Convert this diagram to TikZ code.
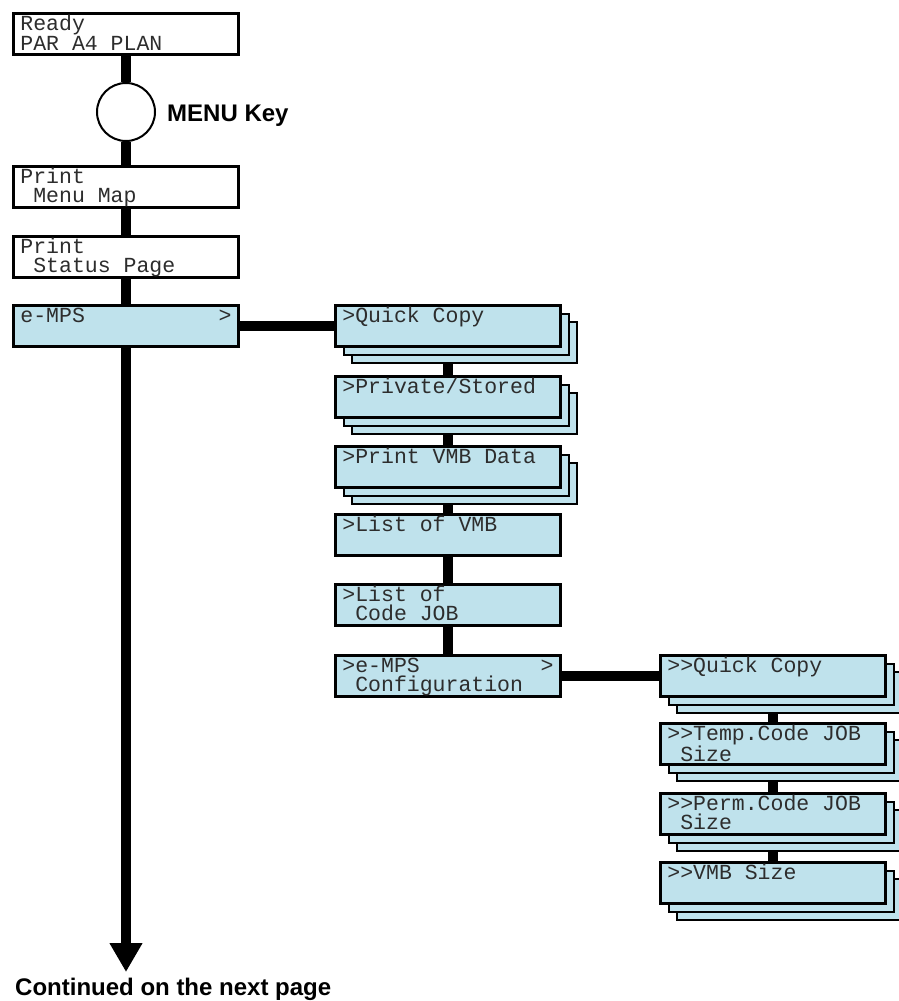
\documentclass[tikz,border=0pt]{standalone}
\usepackage{fontspec}
\newfontfamily\lcdmono{Liberation Mono}
\newfontfamily\labelsans{Liberation Sans}
\usetikzlibrary{shadows,arrows.meta,backgrounds}
\definecolor{lcdblue}{RGB}{191,226,236}
\definecolor{lcdink}{RGB}{45,45,45}

% two display lines, top aligned in the box
\newcommand\lcdtext[2]{\parbox[c][41pt][t]{211.2pt}{\rule{0pt}{17pt}#1\\#2}}
\newcommand\lcdsp{\hspace*{0.6em}}

\begin{document}
\begin{tikzpicture}[x=1pt, y=-1pt,
  lcd/.style={draw, line width=3pt, fill=white, inner sep=0pt, text=lcdink,
    minimum width=225pt, minimum height=41pt,
    font=\lcdmono\fontsize{21.5pt}{18.5pt}\selectfont},
  sub/.style={lcd, fill=lcdblue},
  stack/.style={sub, double copy shadow={shadow xshift=8pt, shadow yshift=-8pt,
    fill=lcdblue, draw=black, line width=2pt}},
  key/.style={circle, draw, line width=2pt, fill=white, minimum size=58pt, inner sep=0pt},
  link/.style={line width=10pt},
  caption/.style={font=\labelsans\bfseries\fontsize{24pt}{28pt}\selectfont, inner sep=0pt}]
  \useasboundingbox (0,0) rectangle (898,1001);

  % --- main column
  \node[lcd] (ready) at (126,34) {\lcdtext{Ready}{PAR A4 PLAN}};
  \node[key] (key) at (126,112) {};
  \node[caption, anchor=base west] (keylabel) at (167,121) {MENU Key};
  \node[lcd] (menumap) at (126,187) {\lcdtext{Print}{\lcdsp Menu Map}};
  \node[lcd] (status) at (126,257) {\lcdtext{Print}{\lcdsp Status Page}};
  \node[sub] (emps) at (126,326) {\lcdtext{e-MPS\hfill>}{}};
  \coordinate (tip) at (126,972);
  \node[caption, anchor=base west] (next) at (15,995) {Continued on the next page};

  % --- e-MPS submenu
  \node[stack] (qc) at (448,326) {\lcdtext{>Quick Copy}{}};
  \node[stack] (priv) at (448,397) {\lcdtext{>Private/Stored}{}};
  \node[stack] (vmbdata) at (448,467) {\lcdtext{>Print VMB Data}{}};
  \node[sub] (listvmb) at (448,535) {\lcdtext{>List of VMB}{}};
  \node[sub] (listjob) at (448,605) {\lcdtext{>List of}{\lcdsp Code JOB}};
  \node[sub] (cfg) at (448,676) {\lcdtext{>e-MPS\hfill>}{\lcdsp Configuration}};

  % --- configuration submenu
  \node[stack] (qc2) at (773,676) {\lcdtext{>>Quick Copy}{}};
  \node[stack] (temp) at (773,744) {\lcdtext{>>Temp.Code JOB}{\lcdsp Size}};
  \node[stack] (perm) at (773,814) {\lcdtext{>>Perm.Code JOB}{\lcdsp Size}};
  \node[stack] (vmbsize) at (773,883) {\lcdtext{>>VMB Size}{}};

  % --- connectors behind the boxes
  \begin{scope}[on background layer]
    \draw[link] (ready) -- (key) -- (menumap) -- (status) -- (emps);
    \draw[link, -{Triangle[width=31pt,length=29pt]}] (emps) -- (tip);
    \draw[link] (emps) -- (qc);
    \draw[link] (qc) -- (priv) -- (vmbdata) -- (listvmb) -- (listjob) -- (cfg);
    \draw[link] (cfg) -- (qc2);
    \draw[link] (qc2) -- (temp) -- (perm) -- (vmbsize);
  \end{scope}
\end{tikzpicture}
\end{document}
